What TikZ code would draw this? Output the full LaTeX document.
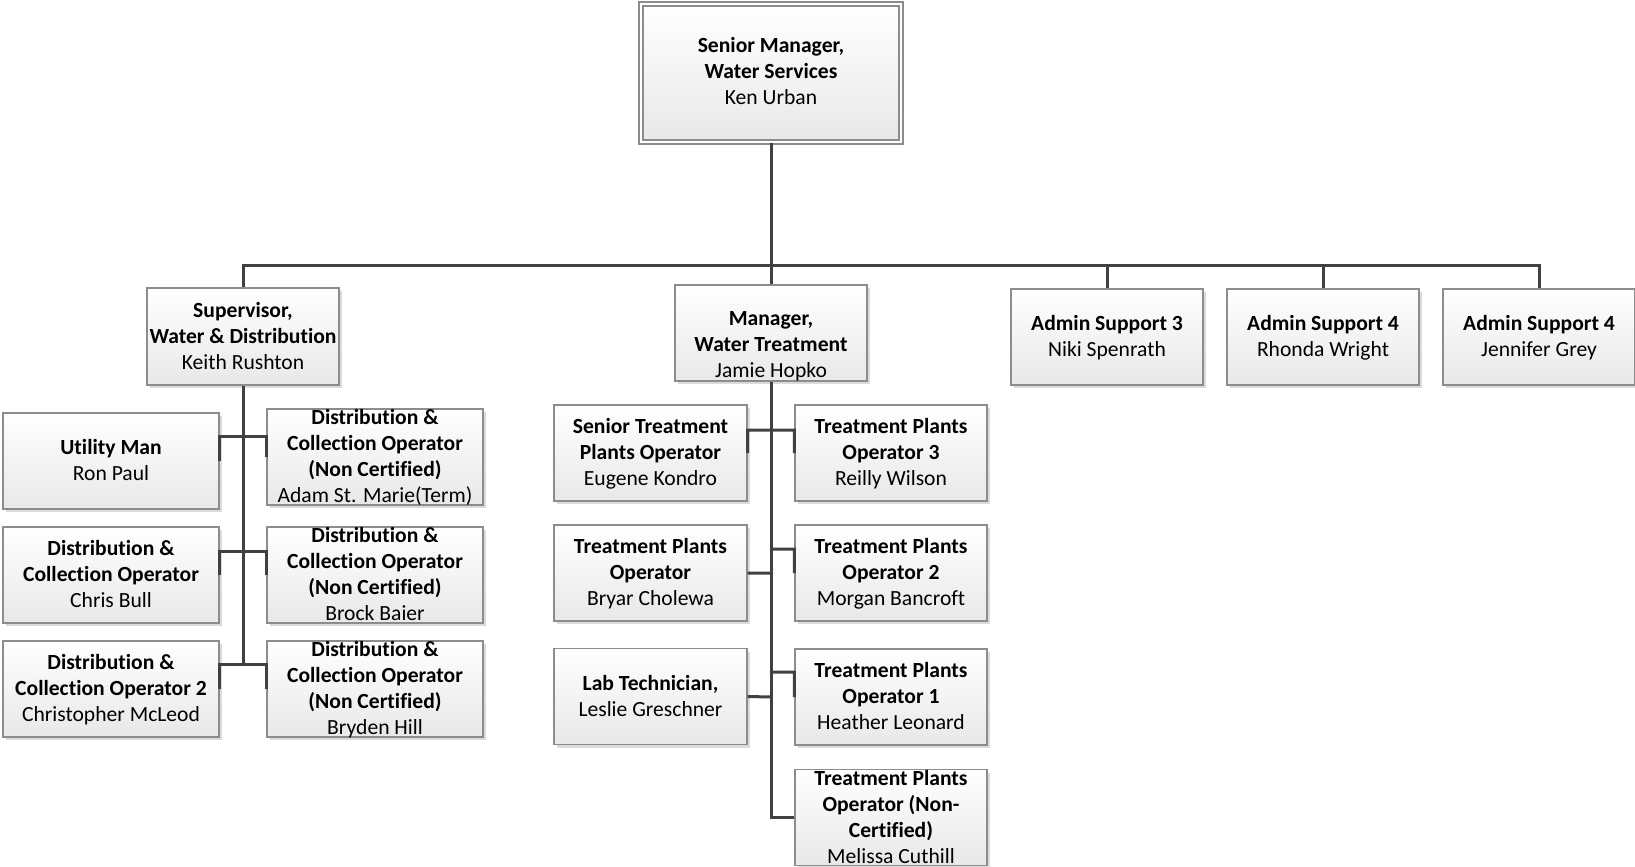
\documentclass[tikz,border=0pt]{standalone}
\usepackage{fontspec}
\setmainfont{Carlito}[Ligatures={NoCommon}]
\usetikzlibrary{
  positioning,
  shadows
}
\tikzset{
  wire/.style = {draw=black!75, line width=1.5pt},
  card/.style = {rectangle, draw=black!45, line width=0.7pt, inner sep=0pt,
                 top color=white, bottom color=black!9,
                 drop shadow={shadow xshift=1.5pt, shadow yshift=-1.5pt, fill=black!14, opacity=1},
                 minimum width=96pt, minimum height=48pt,
                 font=\fontsize{10.8}{13}\selectfont},
  wide/.style = {minimum width=108pt},
}
\newcommand\cardtext[2][0.8pt]{\smash{\raisebox{\dimexpr(\depth-\height)/2-#1\relax}{%
  \begin{tabular}{@{}c@{}}#2\end{tabular}}}}

\begin{document}
\begin{tikzpicture}[x=0.5pt, y=-0.5pt]
\useasboundingbox (0,0) rectangle (1635,867);

\node (boss)[card, double, double distance=1.3pt, minimum width=130pt, minimum height=69pt] at (771,73)
  {\cardtext[0.3pt]{\textbf{Senior Manager,}\\\textbf{Water Services}\\Ken Urban}};

\node (sup)[card, minimum height=48.5pt] at (243,336.5)
  {\cardtext{\textbf{Supervisor,}\\\textbf{Water \& Distribution}\\Keith Rushton}};
\node (mgr)[card] at (771,333)
  {\cardtext[6.5pt]{\textbf{Manager,}\\\textbf{Water Treatment}\\Jamie Hopko}};
\node (adm3)[card] at (1107,337) {\cardtext{\textbf{Admin Support 3}\\Niki Spenrath}};
\node (adm4a)[card] at (1323,337) {\cardtext{\textbf{Admin Support 4}\\Rhonda Wright}};
\node (adm4b)[card] at (1539,337) {\cardtext{\textbf{Admin Support 4}\\Jennifer Grey}};

\node (util)[card, wide] at (111,461) {\cardtext{\textbf{Utility Man}\\Ron Paul}};
\node (dco)[card, wide] at (111,575)
  {\cardtext{\textbf{Distribution \&}\\\textbf{Collection Operator}\\Chris Bull}};
\node (dco2)[card, wide] at (111,689)
  {\cardtext{\textbf{Distribution \&}\\\textbf{Collection Operator 2}\\Christopher McLeod}};
\node (nc1)[card, wide] at (375,457)
  {\cardtext{\textbf{Distribution \&}\\\textbf{Collection Operator}\\\textbf{(Non Certified)}\\Adam St. Marie(Term)}};
\node (nc2)[card, wide] at (375,575)
  {\cardtext{\textbf{Distribution \&}\\\textbf{Collection Operator}\\\textbf{(Non Certified)}\\Brock Baier}};
\node (nc3)[card, wide] at (375,689)
  {\cardtext{\textbf{Distribution \&}\\\textbf{Collection Operator}\\\textbf{(Non Certified)}\\Bryden Hill}};

\node (sto)[card, minimum width=96.5pt] at (650.5,453)
  {\cardtext{\textbf{Senior Treatment}\\\textbf{Plants Operator}\\Eugene Kondro}};
\node (tpo)[card, minimum width=96.5pt] at (650.5,573)
  {\cardtext{\textbf{Treatment Plants}\\\textbf{Operator}\\Bryar Cholewa}};
\node (lab)[card, minimum width=96.5pt] at (650.5,696.5)
  {\cardtext{\textbf{Lab Technician,}\\Leslie Greschner}};
\node (tpo3)[card] at (891,453)
  {\cardtext{\textbf{Treatment Plants}\\\textbf{Operator 3}\\Reilly Wilson}};
\node (tpo2)[card] at (891,573)
  {\cardtext{\textbf{Treatment Plants}\\\textbf{Operator 2}\\Morgan Bancroft}};
\node (tpo1)[card] at (891,697)
  {\cardtext{\textbf{Treatment Plants}\\\textbf{Operator 1}\\Heather Leonard}};
\node (tponc)[card] at (891,817.5)
  {\cardtext{\textbf{Treatment Plants}\\\textbf{Operator (Non-}\\\textbf{Certified)}\\Melissa Cuthill}};

\coordinate (bus) at (771,265);
\coordinate (s1) at (243,436);
\coordinate (s2) at (243,551);
\coordinate (s3) at (243,664);
\coordinate (m1) at (771,430);
\coordinate (m2) at (771,549);
\coordinate (m3) at (771,573);
\coordinate (m4) at (771,672);
\coordinate (m5) at (771,697);

\draw[wire] (boss.south) -- (bus);
\foreach \n in {sup, mgr, adm3, adm4a, adm4b}
  \draw[wire] (bus) -| (\n.north);

\draw[wire] (sup.south) -- (s3);
\draw[wire] (s1) -| (util.east)  (s1) -| (nc1.west)
            (s2) -| (dco.east)   (s2) -| (nc2.west)
            (s3) -| (dco2.east)  (s3) -| (nc3.west);

\draw[wire] (mgr.south) |- (tponc.west);
\draw[wire] (m1) -| (sto.east)  (m1) -| (tpo3.west)
            (m2) -| (tpo2.west) (m3) -- (tpo.east)
            (m4) -| (tpo1.west) (m5) -- (lab.east);
\end{tikzpicture}
\end{document}
